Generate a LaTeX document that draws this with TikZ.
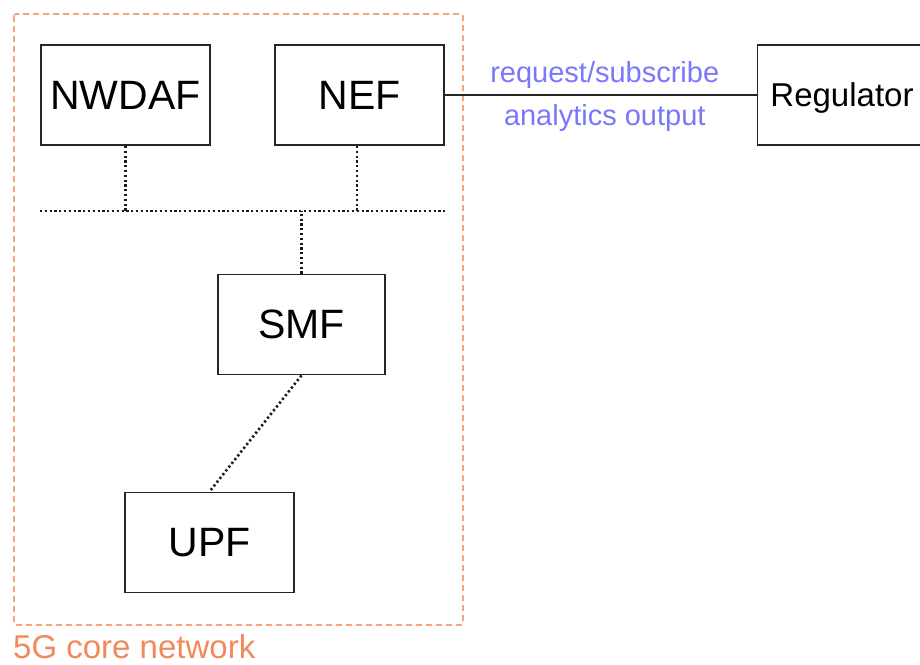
\documentclass[tikz,border=0pt]{standalone}
\usepackage{fontspec}
\setmainfont{Liberation Sans}
\definecolor{corecol}{HTML}{F7A47C}
\definecolor{coretext}{HTML}{F2895C}
\definecolor{labcol}{HTML}{7878FA}
\begin{document}
\begin{tikzpicture}[x=1pt,y=-1pt,
  nf/.style={draw=black!85,line width=1.8pt,minimum width=169pt,minimum height=100pt,inner sep=0pt,font=\fontsize{41}{45}\selectfont,text depth=0pt},
  dotline/.style={line width=2.6pt,dash pattern=on 2.2pt off 2.6pt,black!90},
  lab/.style={text=labcol,font=\fontsize{29}{32}\selectfont,inner sep=0pt}]
\useasboundingbox (0,0) rectangle (920,664);
\draw[corecol,line width=1.6pt,dash pattern=on 6pt off 4pt,rounded corners=2pt] (14,14) rectangle (463,625);
\node[nf] (nwdaf) at (125.5,95) {NWDAF};
\node[nf] (nef) at (359.5,95) {NEF};
\node[nf,font=\fontsize{33}{36}\selectfont] (reg) at (842,95) {Regulator};
\node[nf,minimum width=167pt] (smf) at (301.5,324.5) {SMF};
\node[nf] (upf) at (209.5,542.5) {UPF};
\coordinate (busL) at (40,211);
\coordinate (busR) at (445,211);
\draw[dotline] (busL) -- (busR);
\draw[dotline] (nwdaf.south) -- (nwdaf.south |- busL);
\draw[dotline] (nef.south -| 357,0) -- (357,211);
\draw[dotline] (smf.north) -- (smf.north |- busL);
\draw[dotline] (smf.south) -- (upf.north);
\draw[black!85,line width=1.6pt] (nef.east) -- (reg.west)
  node[lab,midway,anchor=base,yshift=13pt,xshift=4pt] (req) {request/subscribe}
  node[lab,midway,anchor=base,yshift=-30pt,xshift=4pt] (ana) {analytics output};
\node[text=coretext,font=\fontsize{33}{36}\selectfont,anchor=base west,inner sep=0pt] (core) at (13,658) {5G core network};
\end{tikzpicture}
\end{document}
